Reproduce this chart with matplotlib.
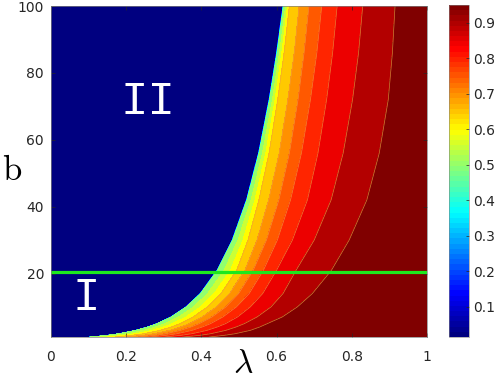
import numpy as np
import matplotlib
matplotlib.use('Agg')
import matplotlib.pyplot as plt
from matplotlib.colors import LinearSegmentedColormap, Normalize
from matplotlib.cm import ScalarMappable

plt.rcParams['mathtext.fontset'] = 'cm'

b_rows = [1, 1.5, 2, 3, 4, 5, 7, 10, 14, 21, 30, 42, 56, 72, 86, 100]
# lambda of the blue edge
lam_edge = [0.100, 0.145, 0.178, 0.223, 0.255, 0.280, 0.318, 0.358,
            0.396, 0.441, 0.481, 0.519, 0.551, 0.579, 0.599, 0.616]
# lambda positions of the level lines 0.6 ... 0.9
lam_060 = [0.170, 0.215, 0.248, 0.290, 0.320, 0.343, 0.378, 0.416,
           0.452, 0.494, 0.524, 0.553, 0.580, 0.603, 0.620, 0.634]
lam_065 = [0.200, 0.245, 0.275, 0.316, 0.345, 0.368, 0.402, 0.440,
           0.475, 0.516, 0.548, 0.579, 0.607, 0.630, 0.647, 0.660]
lam_070 = [0.230, 0.275, 0.305, 0.344, 0.372, 0.394, 0.428, 0.465,
           0.499, 0.538, 0.573, 0.606, 0.634, 0.657, 0.673, 0.686]
lam_075 = [0.260, 0.305, 0.335, 0.375, 0.402, 0.424, 0.457, 0.493,
           0.527, 0.565, 0.602, 0.637, 0.666, 0.690, 0.707, 0.720]
lam_080 = [0.300, 0.345, 0.375, 0.415, 0.442, 0.464, 0.496, 0.530,
           0.563, 0.600, 0.642, 0.682, 0.710, 0.733, 0.749, 0.761]
lam_085 = [0.350, 0.395, 0.425, 0.465, 0.492, 0.514, 0.548, 0.585,
           0.617, 0.652, 0.700, 0.745, 0.777, 0.802, 0.818, 0.829]
lam_090 = [0.420, 0.460, 0.490, 0.530, 0.555, 0.575, 0.615, 0.655,
           0.695, 0.746, 0.793, 0.840, 0.873, 0.897, 0.908, 0.915]
line_levels = [0.6, 0.65, 0.7, 0.75, 0.8, 0.85, 0.9]
z_min, z_edge, z_max = 0.015, 0.45, 0.95
b_border = 20.5
cbar_ticks = [0.1, 0.2, 0.3, 0.4, 0.5, 0.6, 0.7, 0.8, 0.9]

# MATLAB style jet
jet_anchors = [(0, (0, 0, 0.5)), (0.125, (0, 0, 1)), (0.375, (0, 1, 1)),
               (0.625, (1, 1, 0)), (0.875, (1, 0, 0)), (1, (0.5, 0, 0))]
cmap = LinearSegmentedColormap.from_list('mjet', jet_anchors, N=256)
cmap64 = LinearSegmentedColormap.from_list('mjet64', jet_anchors, N=64)
norm = Normalize(z_min, z_max)

# curvilinear grid built from the read-off contour positions
b = np.array(b_rows, dtype=float)
edge = np.array(lam_edge)
cols_x = [np.zeros_like(edge), edge, edge + 0.003,
          np.array(lam_060), np.array(lam_065), np.array(lam_070), np.array(lam_075),
          np.array(lam_080), np.array(lam_085), np.array(lam_090), np.ones_like(edge)]
cols_z = [z_min, z_min, z_edge] + line_levels + [z_max]
X = np.column_stack(cols_x)
Y = np.repeat(b[:, None], X.shape[1], axis=1)
Z = np.tile(np.array(cols_z), (len(b), 1))

levels = np.round(np.arange(0, 0.951, 0.05), 2)
band_colors = [cmap(0.0)] + [cmap(norm(lv)) for lv in levels[2:]]

fig = plt.figure(figsize=(4.98, 3.83), dpi=100)
ax = fig.add_axes([0.1024, 0.120, 0.7550, 0.8643])

ax.contourf(X, Y, Z, levels=levels, colors=band_colors)
ax.contour(X, Y, Z, levels=line_levels, colors='#f0a040', linewidths=0.5, alpha=0.8)
ax.plot([0, 1], [b_border, b_border], color='#1ee81e', lw=2.3)

ax.text(0.258, 71.3, 'II', color='white', fontsize=33, family='Liberation Mono',
        ha='center', va='center')
ax.text(0.093, 12.6, 'I', color='white', fontsize=33, family='Liberation Mono',
        ha='center', va='center')

ax.set_xlim(0, 1)
ax.set_ylim(1, 100)
ax.set_xticks([0, 0.2, 0.4, 0.6, 0.8, 1])
ax.set_xticklabels(['0', '0.2', '0.4', '0.6', '0.8', '1'])
ax.set_yticks([20, 40, 60, 80, 100])
ax.tick_params(direction='in', length=3, width=0.5, top=True, right=True,
               labelsize=10, colors='0.15')
ax.tick_params(axis='x', pad=9)
ax.tick_params(axis='y', pad=5)
for s in ax.spines.values():
    s.set_linewidth(0.5)
    s.set_color('0.5')

ax.set_xlabel(r'$\lambda$', fontsize=24)
ax.xaxis.set_label_coords(0.51, -0.079)
ax.xaxis.label.set_va('center')
ax.set_ylabel(r'$\mathrm{b}$', fontsize=25, rotation=0)
ax.yaxis.set_label_coords(-0.104, 0.505)
ax.yaxis.label.set_va('center')

cax = fig.add_axes([0.9016, 0.120, 0.040, 0.867])
cb = fig.colorbar(ScalarMappable(norm=norm, cmap=cmap64), cax=cax, ticks=cbar_ticks)
cb.ax.tick_params(direction='in', length=2, width=0.5, labelsize=10, pad=3, colors='0.15')
cb.outline.set_linewidth(0.4)
cb.outline.set_edgecolor('0.5')

fig.savefig('out.png', dpi=100)
